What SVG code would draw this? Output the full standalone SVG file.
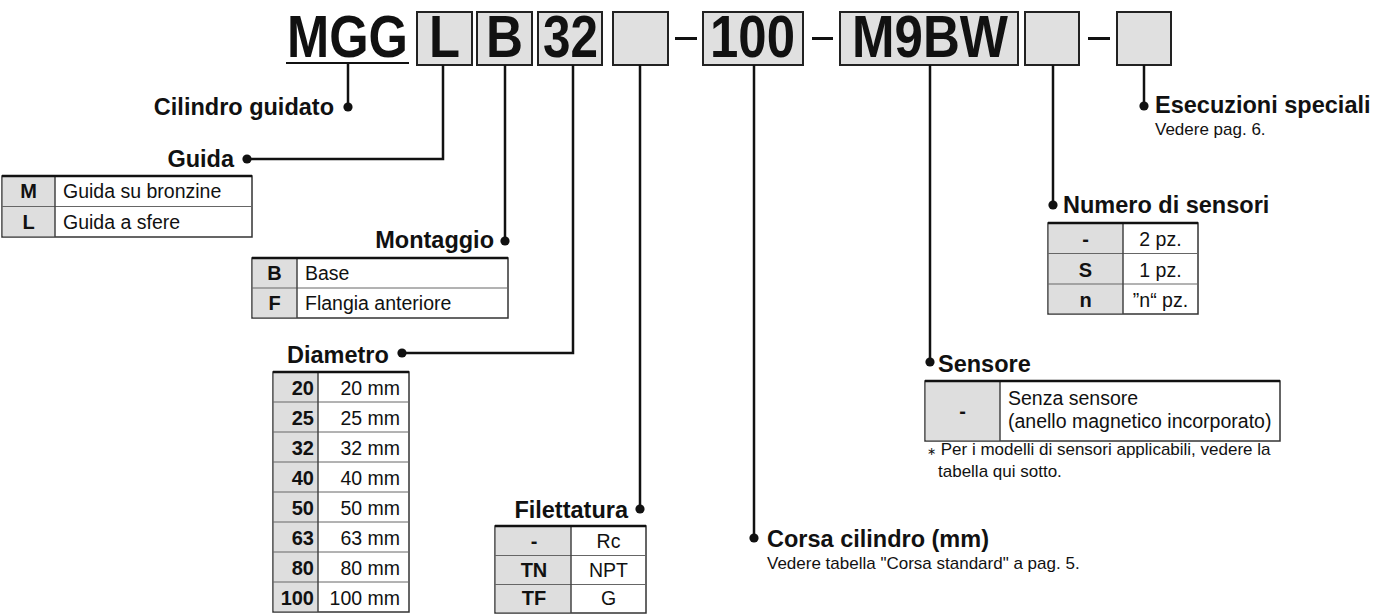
<svg xmlns="http://www.w3.org/2000/svg" width="1376" height="614" viewBox="0 0 1376 614">
<style>
text{font-family:"Liberation Sans",Arial,Helvetica,sans-serif;fill:#111}
.hd{font-size:60px;font-weight:bold}
.lbl{font-size:23.5px;font-weight:bold}
.key{font-size:20px;font-weight:bold}
.val{font-size:19.5px}
.note{font-size:17px}
.box{fill:#e0e0e0;stroke:#222;stroke-width:2}
.cell{fill:#fff;stroke:#333;stroke-width:1.5}
.kc{fill:#dedede}
.top{stroke:#111;stroke-width:2.5}
.div{stroke:#666;stroke-width:1}
.cdiv{stroke:#444;stroke-width:1.5}
.con{fill:none;stroke:#111;stroke-width:2.5}
.m{text-anchor:middle}
.e{text-anchor:end}
</style>
<defs>
<marker id="dot" markerUnits="userSpaceOnUse" markerWidth="12" markerHeight="12" refX="6" refY="6" viewBox="0 0 12 12">
<circle cx="6" cy="6" r="4.6" fill="#111"/>
</marker>
</defs>

<g id="header">
<text class="hd" x="287" y="57" textLength="121" lengthAdjust="spacingAndGlyphs">MGG</text>
<rect x="286" y="62" width="123" height="2" fill="#111"/>
<rect class="box" x="417" y="12" width="55" height="53"/>
<text class="hd" x="429" y="57" textLength="31" lengthAdjust="spacingAndGlyphs">L</text>
<rect class="box" x="477" y="12" width="55" height="53"/>
<text class="hd" x="486" y="57" textLength="37" lengthAdjust="spacingAndGlyphs">B</text>
<rect class="box" x="538" y="12" width="64" height="53"/>
<text class="hd" x="543" y="57" textLength="55" lengthAdjust="spacingAndGlyphs">32</text>
<rect class="box" x="613" y="12" width="55" height="53"/>
<rect x="675" y="37" width="22" height="3" fill="#111"/>
<rect class="box" x="703" y="12" width="100" height="53"/>
<text class="hd" x="710" y="57" textLength="85" lengthAdjust="spacingAndGlyphs">100</text>
<rect x="812" y="37" width="21" height="3" fill="#111"/>
<rect class="box" x="840" y="12" width="178" height="53"/>
<text class="hd" x="852" y="57" textLength="156" lengthAdjust="spacingAndGlyphs">M9BW</text>
<rect class="box" x="1025" y="12" width="54" height="53"/>
<rect x="1088" y="37" width="22" height="3" fill="#111"/>
<rect class="box" x="1117" y="12" width="54" height="53"/>
</g>

<g id="connectors">
<path class="con" d="M348,64 V107" marker-end="url(#dot)"/>
<path class="con" d="M443,65 V159 H247" marker-end="url(#dot)"/>
<path class="con" d="M505,65 V241" marker-end="url(#dot)"/>
<path class="con" d="M573,65 V353 H402" marker-end="url(#dot)"/>
<path class="con" d="M640,65 V509" marker-end="url(#dot)"/>
<path class="con" d="M754,65 V538" marker-end="url(#dot)"/>
<path class="con" d="M930,65 V362" marker-end="url(#dot)"/>
<path class="con" d="M1053,65 V205" marker-end="url(#dot)"/>
<path class="con" d="M1144,65 V106" marker-end="url(#dot)"/>
</g>

<g id="cilindro">
<text class="lbl e" x="334" y="115">Cilindro guidato</text>
</g>

<g id="guida">
<text class="lbl e" x="234" y="167">Guida</text>
<rect class="cell" x="2" y="176" width="250" height="61"/>
<rect class="kc" x="2.75" y="176.75" width="52.25" height="59.5"/>
<line class="div" x1="2" y1="206.5" x2="252" y2="206.5"/>
<line class="cdiv" x1="55" y1="176" x2="55" y2="237"/>
<line class="top" x1="2" y1="176" x2="252" y2="176"/>
<text class="key m" x="28.5" y="198">M</text>
<text class="val" x="63" y="198">Guida su bronzine</text>
<text class="key m" x="28.5" y="228.5">L</text>
<text class="val" x="63" y="228.5">Guida a sfere</text>
</g>

<g id="montaggio">
<text class="lbl e" x="494" y="248">Montaggio</text>
<rect class="cell" x="252" y="258" width="256" height="60"/>
<rect class="kc" x="252.75" y="258.75" width="44.25" height="58.5"/>
<line class="div" x1="252" y1="288" x2="508" y2="288"/>
<line class="cdiv" x1="297" y1="258" x2="297" y2="318"/>
<line class="top" x1="252" y1="258" x2="508" y2="258"/>
<text class="key m" x="274.5" y="280">B</text>
<text class="val" x="305" y="280">Base</text>
<text class="key m" x="274.5" y="310">F</text>
<text class="val" x="305" y="310">Flangia anteriore</text>
</g>

<g id="diametro">
<text class="lbl" x="287" y="363">Diametro</text>
<rect class="cell" x="273" y="372" width="136" height="240"/>
<rect class="kc" x="273.75" y="372.75" width="44.25" height="238.5"/>
<line class="div" x1="273" y1="402" x2="409" y2="402"/>
<line class="div" x1="273" y1="432" x2="409" y2="432"/>
<line class="div" x1="273" y1="462" x2="409" y2="462"/>
<line class="div" x1="273" y1="492" x2="409" y2="492"/>
<line class="div" x1="273" y1="522" x2="409" y2="522"/>
<line class="div" x1="273" y1="552" x2="409" y2="552"/>
<line class="div" x1="273" y1="582" x2="409" y2="582"/>
<line class="cdiv" x1="318" y1="372" x2="318" y2="612"/>
<line class="top" x1="273" y1="372" x2="409" y2="372"/>
<text class="key e" x="314" y="394.5">20</text><text class="val e" x="400" y="394.5">20 mm</text>
<text class="key e" x="314" y="424.5">25</text><text class="val e" x="400" y="424.5">25 mm</text>
<text class="key e" x="314" y="454.5">32</text><text class="val e" x="400" y="454.5">32 mm</text>
<text class="key e" x="314" y="484.5">40</text><text class="val e" x="400" y="484.5">40 mm</text>
<text class="key e" x="314" y="514.5">50</text><text class="val e" x="400" y="514.5">50 mm</text>
<text class="key e" x="314" y="544.5">63</text><text class="val e" x="400" y="544.5">63 mm</text>
<text class="key e" x="314" y="574.5">80</text><text class="val e" x="400" y="574.5">80 mm</text>
<text class="key e" x="314" y="604.5">100</text><text class="val e" x="400" y="604.5">100 mm</text>
</g>

<g id="filettatura">
<text class="lbl e" x="628" y="518">Filettatura</text>
<rect class="cell" x="495" y="526" width="151" height="87"/>
<rect class="kc" x="495.75" y="526.75" width="75.25" height="85.5"/>
<line class="div" x1="495" y1="555.5" x2="646" y2="555.5"/>
<line class="div" x1="495" y1="584.5" x2="646" y2="584.5"/>
<line class="cdiv" x1="571" y1="526" x2="571" y2="613"/>
<line class="top" x1="495" y1="526" x2="646" y2="526"/>
<text class="key m" x="534" y="547.5">-</text><text class="val m" x="608.5" y="547.5">Rc</text>
<text class="key m" x="534" y="576.5">TN</text><text class="val m" x="608.5" y="576.5">NPT</text>
<text class="key m" x="534" y="605">TF</text><text class="val m" x="608.5" y="605">G</text>
</g>

<g id="corsa">
<text class="lbl" x="767" y="547">Corsa cilindro (mm)</text>
<text class="note" x="767" y="569">Vedere tabella "Corsa standard" a pag. 5.</text>
</g>

<g id="sensore">
<text class="lbl" x="938" y="372">Sensore</text>
<rect class="cell" x="925" y="381" width="355" height="60"/>
<rect class="kc" x="925.75" y="381.75" width="74.25" height="58.5"/>
<line class="cdiv" x1="1000" y1="381" x2="1000" y2="441"/>
<line class="top" x1="925" y1="381" x2="1280" y2="381"/>
<text class="key m" x="962.5" y="418">-</text>
<text class="val" x="1008" y="405">Senza sensore</text>
<text class="val" x="1008" y="428">(anello magnetico incorporato)</text>
<text class="note" x="927" y="455"><tspan font-size="11">∗</tspan> Per i modelli di sensori applicabili, vedere la</text>
<text class="note" x="938" y="477">tabella qui sotto.</text>
</g>

<g id="numero">
<text class="lbl" x="1063" y="213">Numero di sensori</text>
<rect class="cell" x="1048" y="223" width="150" height="91"/>
<rect class="kc" x="1048.75" y="223.75" width="74.25" height="89.5"/>
<line class="div" x1="1048" y1="253.5" x2="1198" y2="253.5"/>
<line class="div" x1="1048" y1="284" x2="1198" y2="284"/>
<line class="cdiv" x1="1123" y1="223" x2="1123" y2="314"/>
<line class="top" x1="1048" y1="223" x2="1198" y2="223"/>
<text class="key m" x="1085.5" y="246">-</text><text class="val m" x="1160.5" y="246">2 pz.</text>
<text class="key m" x="1085.5" y="276.5">S</text><text class="val m" x="1160.5" y="276.5">1 pz.</text>
<text class="key m" x="1085.5" y="306.5">n</text><text class="val m" x="1160.5" y="306.5">”n“ pz.</text>
</g>

<g id="esecuzioni">
<text class="lbl" x="1155" y="113">Esecuzioni speciali</text>
<text class="note" x="1155" y="135">Vedere pag. 6.</text>
</g>
</svg>
